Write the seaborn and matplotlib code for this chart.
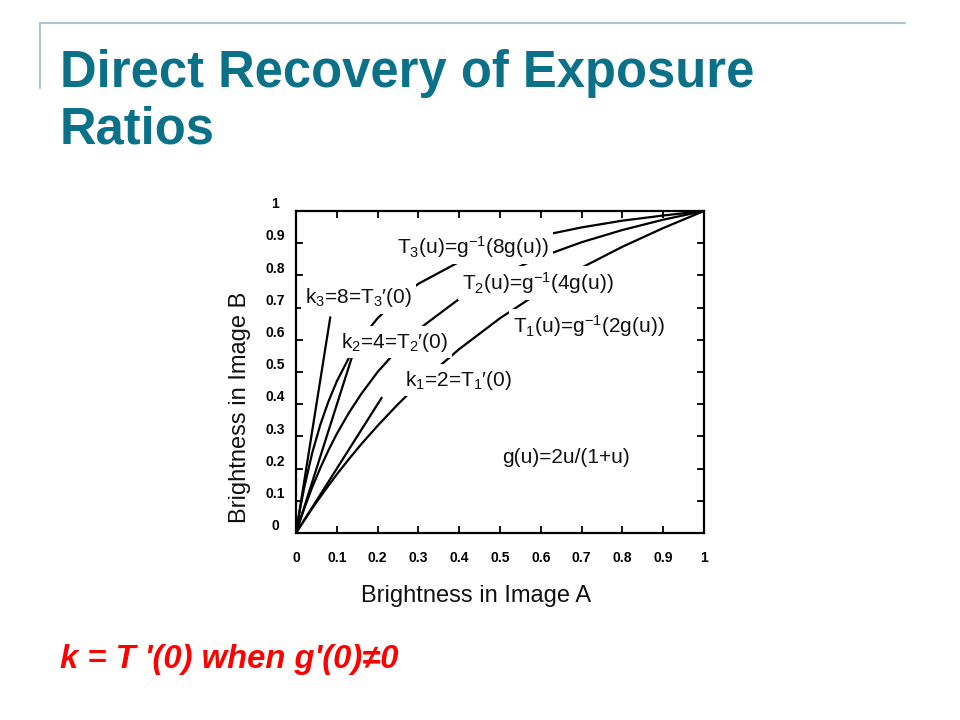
import numpy as np
import pandas as pd
import matplotlib
matplotlib.use("Agg")
import matplotlib.pyplot as plt
from matplotlib.transforms import ScaledTranslation
from matplotlib.lines import Line2D
import seaborn as sns

# values
u = [0, 0.01, 0.02, 0.04, 0.06, 0.08, 0.1, 0.13, 0.16, 0.2, 0.25, 0.3, 0.4, 0.5, 0.6, 0.7, 0.8, 0.9, 1.0]
t3 = [0, 0.075, 0.140, 0.250, 0.338, 0.410, 0.471, 0.545, 0.604, 0.667, 0.727, 0.774, 0.842, 0.889, 0.923, 0.949, 0.970, 0.986, 1.0]
t2 = [0, 0.039, 0.075, 0.143, 0.203, 0.258, 0.308, 0.374, 0.432, 0.500, 0.571, 0.632, 0.727, 0.800, 0.857, 0.903, 0.941, 0.973, 1.0]
t1 = [0, 0.020, 0.039, 0.077, 0.113, 0.148, 0.182, 0.230, 0.276, 0.333, 0.400, 0.462, 0.571, 0.667, 0.750, 0.824, 0.889, 0.947, 1.0]

# tangent lines at the origin
k3_x = [0, 0.084]
k3_y = [0, 0.67]
k2_x = [0, 0.138]
k2_y = [0, 0.55]
k1_x = [0, 0.21]
k1_y = [0, 0.42]

ticks = [0, 0.1, 0.2, 0.3, 0.4, 0.5, 0.6, 0.7, 0.8, 0.9, 1]
tick_labels = ["0", "0.1", "0.2", "0.3", "0.4", "0.5", "0.6", "0.7", "0.8", "0.9", "1"]

sns.set_theme(style="white")
plt.rcParams['font.family'] = ['Liberation Sans', 'DejaVu Sans']
plt.rcParams['mathtext.fontset'] = 'custom'
plt.rcParams['mathtext.rm'] = 'Liberation Sans'
plt.rcParams['mathtext.it'] = 'Liberation Sans:italic'
plt.rcParams['mathtext.bf'] = 'Liberation Sans:bold'

fig = plt.figure(figsize=(9.6, 7.2), dpi=100)
fig.patch.set_facecolor('white')

# slide decoration
fig.add_artist(Line2D([40/960, 905/960], [1-23/720, 1-23/720], color='#A9C5CD', lw=1.5))
fig.add_artist(Line2D([40/960, 40/960], [1-23/720, 1-88/720], color='#A9C5CD', lw=1.5))

fig.text(60/960, 1-87/720, "Direct Recovery of Exposure",
         fontsize=36.5, fontweight='bold', color='#0B7189', va='baseline', ha='left')
fig.text(60/960, 1-144/720, "Ratios",
         fontsize=36.5, fontweight='bold', color='#0B7189', va='baseline', ha='left')

fig.text(60/960, 1-668/720, "k = T '(0) when g'(0)\u22600", fontsize=23.6,
         fontweight='bold', fontstyle='italic', color='#FF0000', va='baseline', ha='left')

ax = fig.add_axes([296/960, 1-533/720, 408/960, 322/720])

curves = pd.DataFrame({'u': u * 3, 'T': t3 + t2 + t1,
                       'curve': ['T3'] * len(u) + ['T2'] * len(u) + ['T1'] * len(u)})
sns.lineplot(data=curves, x='u', y='T', units='curve', estimator=None,
             color='black', lw=1.6, ax=ax)
for xs, ys in [(k3_x, k3_y), (k2_x, k2_y), (k1_x, k1_y)]:
    sns.lineplot(x=xs, y=ys, color='black', lw=1.6, ax=ax)

box = dict(boxstyle='square,pad=0.2', fc='white', ec='none')
lab_kw = dict(fontsize=15, ha='left', va='center', color='#111111', bbox=box)
ax.text(0.2475, 0.888, r"T$_3$(u)=g$^{-1}$(8g(u))", **lab_kw)
ax.text(0.407, 0.776, r"T$_2$(u)=g$^{-1}$(4g(u))", **lab_kw)
ax.text(0.532, 0.643, r"T$_1$(u)=g$^{-1}$(2g(u))", **lab_kw)
ax.text(0.022, 0.730, "k$_3$=8=T$_3$\u2032(0)", **lab_kw)
ax.text(0.110, 0.593, "k$_2$=4=T$_2$\u2032(0)", **lab_kw)
ax.text(0.267, 0.475, "k$_1$=2=T$_1$\u2032(0)", **lab_kw)
ax.text(0.505, 0.236, "g(u)=2u/(1+u)", **lab_kw)

ax.set_xlim(0, 1)
ax.set_ylim(0, 1)
ax.set_xticks(ticks)
ax.set_yticks(ticks)
ax.set_xticklabels(tick_labels, fontweight='bold', fontsize=10)
ax.set_yticklabels(tick_labels, fontweight='bold', fontsize=10, ha='center')
ax.tick_params(axis='both', direction='in', length=5, width=1.3, color='black',
               top=True, right=True, bottom=True, left=True, labelcolor='black')
ax.tick_params(axis='x', pad=13)
ax.tick_params(axis='y', pad=15)
for lab in ax.get_yticklabels():
    lab.set_transform(lab.get_transform() + ScaledTranslation(0, 6/72, fig.dpi_scale_trans))
for s in ax.spines.values():
    s.set_visible(True)
    s.set_color('black')
    s.set_linewidth(1.6)

ax.set_xlabel("Brightness in Image A", fontsize=17, color='#111111')
ax.set_ylabel("Brightness in Image B", fontsize=17, color='#111111')
ax.xaxis.set_label_coords(0.441, -0.16)
ax.yaxis.set_label_coords(-0.111, 0.39)
ax.set_facecolor('white')

fig.savefig("out.png", dpi=100, facecolor='white')
